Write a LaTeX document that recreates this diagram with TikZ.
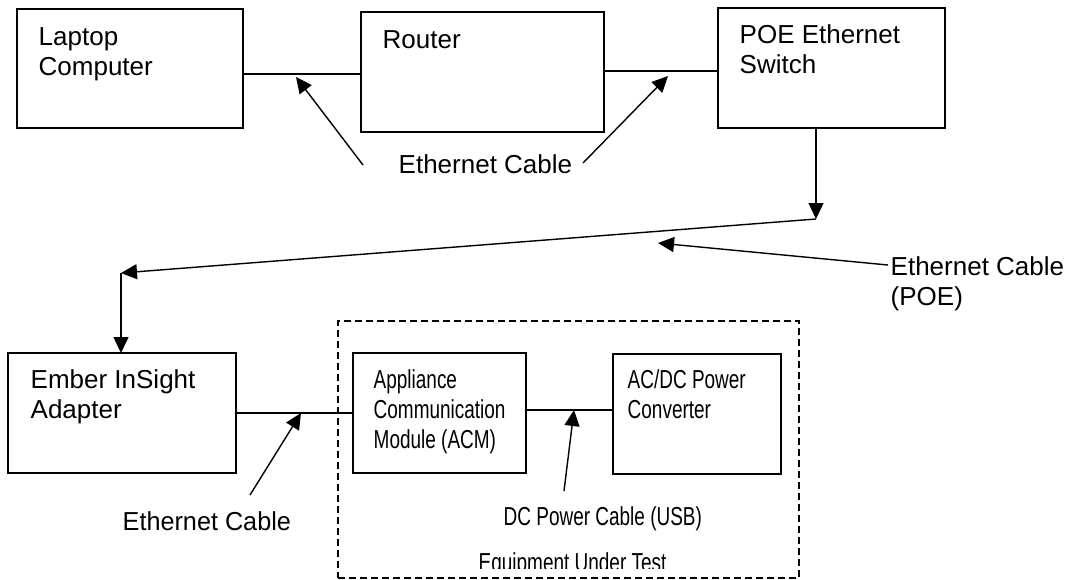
\documentclass[tikz,border=0pt]{standalone}
\usepackage{fontspec}
\usepackage{graphicx}
\setmainfont{Liberation Sans}
\usetikzlibrary{arrows.meta}
\newcommand{\cnd}[1]{\scalebox{0.73}[1]{#1}}
\begin{document}
\begin{tikzpicture}[x=1pt,y=-1pt,line width=1.4pt,
  box/.style={draw,inner sep=0pt,outer sep=0pt,anchor=north west},
  txt/.style={inner sep=0pt,anchor=base west,font=\fontsize{26}{30}\selectfont},
  arr/.style={-{Triangle[length=16pt,width=15pt]}},
  eutbox/.style={box,line width=1.3pt,dash pattern=on 7pt off 4pt}]
\useasboundingbox (0,0) rectangle (1070,579);
% boxes
\node[box,minimum width=226pt,minimum height=119pt] (lap) at (17,9) {};
\node[box,minimum width=243pt,minimum height=120pt] (rou) at (361,12) {};
\node[box,minimum width=227pt,minimum height=120pt] (poe) at (718,8) {};
\node[box,minimum width=228pt,minimum height=120pt] (emb) at (8,353) {};
\node[box,minimum width=173pt,minimum height=120pt] (acm) at (353,353) {};
\node[box,minimum width=168pt,minimum height=120pt] (acdc) at (613,354) {};
\node[eutbox,minimum width=461pt,minimum height=257pt] (eut) at (338,321) {};
% box texts
\node[txt] (laptxt) at (38,45) {\begin{tabular}[t]{@{}l@{}}Laptop\\Computer\end{tabular}};
\node[txt] (routxt) at (382,48) {Router};
\node[txt] (poetxt) at (739,43) {\begin{tabular}[t]{@{}l@{}}POE Ethernet\\Switch\end{tabular}};
\node[txt] (embtxt) at (30,388) {\begin{tabular}[t]{@{}l@{}}Ember InSight\\Adapter\end{tabular}};
\node[txt] (acmtxt) at (373,388) {\begin{tabular}[t]{@{}l@{}}\cnd{Appliance}\\\cnd{Communication}\\\cnd{Module (ACM)}\end{tabular}};
\node[txt] (acdctxt) at (627,388) {\begin{tabular}[t]{@{}l@{}}\cnd{AC/DC Power}\\\cnd{Converter}\end{tabular}};
% labels
\node[txt] (lbl1) at (398,173) {Ethernet Cable};
\node[txt] (lbl2) at (890,275) {\begin{tabular}[t]{@{}l@{}}Ethernet Cable\\(POE)\end{tabular}};
\node[txt] (lbl3) at (122,530) {\scalebox{0.97}[1]{Ethernet Cable}};
\node[txt] (lbl4) at (503,525) {\cnd{DC Power Cable (USB)}};
\begin{scope}
\clip (0,0) rectangle (1070,568);
\node[txt] (lbl5) at (478,571) {\cnd{Equipment Under Test}};
\end{scope}
% cable lines
\coordinate (c1) at (300,74);
\coordinate (c2) at (660,71);
\coordinate (c3) at (300,413);
\coordinate (c4) at (570,410);
\draw (lap.east |- c1) -- (rou.west |- c1);
\draw (rou.east |- c2) -- (poe.west |- c2);
\draw (emb.east |- c3) -- (acm.west |- c3);
\draw (acm.east |- c4) -- (acdc.west |- c4);
% POE cable route
\coordinate (p1) at (816,219);
\coordinate (p2) at (121,273);
\draw[arr] (poe.south -| p1) -- (p1);
\draw[arr] (p1) -- (p2);
\draw[arr] (p2) -- (emb.north -| p2);
% label arrows
\coordinate (t1) at (363,165);
\coordinate (h1) at (296,77);
\coordinate (t2) at (583,163);
\coordinate (h2) at (668,76);
\coordinate (t3) at (888,265);
\coordinate (h3) at (658,243);
\coordinate (t4) at (250,495);
\coordinate (h4) at (301,413);
\coordinate (t5) at (564,491);
\coordinate (h5) at (574,410);
\draw[arr] (t1) -- (h1);
\draw[arr] (t2) -- (h2);
\draw[arr] (t3) -- (h3);
\draw[arr] (t4) -- (h4);
\draw[arr] (t5) -- (h5);
\end{tikzpicture}
\end{document}
